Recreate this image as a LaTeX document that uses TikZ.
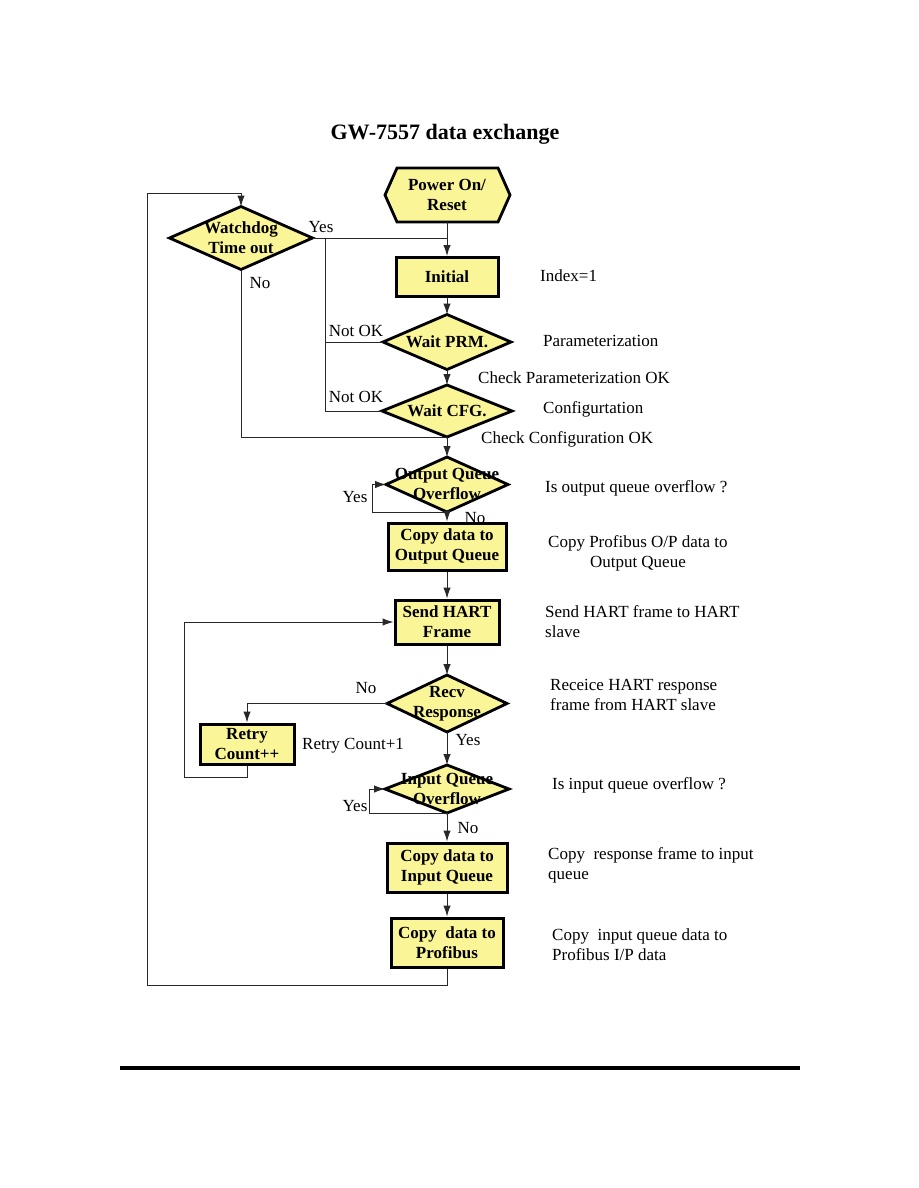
\documentclass[tikz,border=0pt]{standalone}
\usepackage{fontspec}
\setmainfont{Liberation Serif}
\usetikzlibrary{arrows.meta,shapes.geometric}
\definecolor{yfill}{RGB}{250,245,150}
\definecolor{lncol}{RGB}{40,40,40}
\tikzset{
  boxn/.style={draw=black, line width=3pt, fill=yfill, font=\fontsize{17}{20}\selectfont\bfseries, align=center, inner sep=0pt},
  diam/.style={diamond, draw=black, line width=2.8pt, fill=yfill, inner sep=0pt, outer sep=0pt},
  dtext/.style={font=\fontsize{17}{20}\selectfont\bfseries, align=center, inner sep=0pt},
  conn/.style={draw=lncol, line width=1pt},
  arr/.style={conn, -{Latex[length=11pt,width=7.5pt]}},
  ann/.style={font=\fontsize{17}{20}\selectfont, anchor=west, align=left, inner sep=0pt},
  lbl/.style={font=\fontsize{17}{20}\selectfont, inner sep=0pt}
}
\begin{document}
\begin{tikzpicture}[x=1pt,y=-1pt]
\useasboundingbox[fill=white] (0,0) rectangle (918,1188);
% title
\node[font=\fontsize{22}{26}\selectfont\bfseries] (title) at (445,134) {GW-7557 data exchange};
% power on hexagon
\fill[yfill] (385,195)--(397,168)--(498,168)--(510,195)--(498,222)--(397,222)--cycle;
\draw[line width=2.8pt] (385,195)--(397,168)--(498,168)--(510,195)--(498,222)--(397,222)--cycle;
\node[dtext, minimum width=125pt, minimum height=54pt] (pwr) at (447,195) {Power On/\\Reset};
% nodes
\node[diam, minimum width=143pt, minimum height=63pt] (wd) at (241,238) {};
\node[dtext] (wdt) at (241,238) {Watchdog\\Time out};
\node[boxn, minimum width=102pt, minimum height=39pt] (init) at (447,277) {Initial};
\node[diam, minimum width=128pt, minimum height=55pt] (prm) at (447,342) {};
\node[dtext] (prmt) at (447,342) {Wait PRM.};
\node[diam, minimum width=130pt, minimum height=52pt] (cfg) at (447,411) {};
\node[dtext] (cfgt) at (447,411) {Wait CFG.};
\node[diam, minimum width=122pt, minimum height=55pt] (oq) at (447,484.5) {};
\node[dtext] (oqt) at (447,484) {Output Queue\\Overflow};
\node[boxn, minimum width=118pt, minimum height=47pt] (cpo) at (447,546.5) {Copy data to\\Output Queue};
\node[boxn, minimum width=104pt, minimum height=44pt] (hart) at (447,622) {Send HART\\Frame};
\node[diam, minimum width=120pt, minimum height=57pt] (recv) at (447,703.5) {};
\node[dtext] (recvt) at (447,703.5) {Recv\\Response};
\node[boxn, minimum width=94pt, minimum height=40pt] (retry) at (247,744) {Retry\\Count++};
\node[diam, minimum width=124pt, minimum height=48pt] (iq) at (447,789) {};
\node[dtext] (iqt) at (447,789) {Input Queue\\Overflow};
\node[boxn, minimum width=120pt, minimum height=49pt] (cpi) at (447,867.5) {Copy data to\\Input Queue};
\node[boxn, minimum width=112pt, minimum height=49pt] (cpp) at (447,942.5) {Copy~~data to\\Profibus};
% coordinates
\coordinate (c1) at (325,238);
\coordinate (oqL) at (372,512);
\coordinate (rl) at (184,777);
\coordinate (iqL) at (369,813);
\coordinate (bl) at (147,985);
\coordinate (tl) at (147,193);
% connectors
\draw[arr] (pwr.south) -- (init.north);
\draw[conn] (wd.east) -- (wd.east -| init.north);
\draw[conn] (c1) |- (cfg.west);
\draw[conn] (prm.west) -- (prm.west -| c1);
\draw[arr] (init.south) -- (prm.north);
\draw[arr] (prm.south) -- (cfg.north);
\draw[conn] (wd.south) |- (cfg.south);
\draw[arr] (cfg.south) -- (oq.north);
\draw[arr] (oq.south) -- (oq.south -| oqL) |- (oq.west);
\draw[arr] (oq.south) -- (cpo.north);
\draw[arr] (cpo.south) -- (hart.north);
\draw[arr] (hart.south) -- (recv.north);
\draw[arr] (recv.west) -| (retry.north);
\draw[arr] (retry.south) |- (rl) |- (hart.west);
\draw[arr] (recv.south) -- (iq.north);
\draw[arr] (iq.south) -- (iq.south -| iqL) |- (iq.west);
\draw[arr] (iq.south) -- (cpi.north);
\draw[arr] (cpi.south) -- (cpp.north);
\draw[arr] (cpp.south) |- (bl) -- (tl) -| (wd.north);
% connector labels
\node[lbl] (y1) at (321,227) {Yes};
\node[lbl] (n1) at (260,283) {No};
\node[lbl] (nok1) at (356,331) {Not OK};
\node[lbl] (nok2) at (356,397) {Not OK};
\node[lbl] (y2) at (355,497) {Yes};
\node[lbl] (n2) at (475,518) {No};
\node[lbl] (n3) at (366,688) {No};
\node[lbl] (y3) at (468,740) {Yes};
\node[lbl] (y4) at (355,806) {Yes};
\node[lbl] (n4) at (468,828) {No};
% annotations
\node[ann] (a1) at (540,276) {Index=1};
\node[ann] (a2) at (543,341) {Parameterization};
\node[ann] (a3) at (478,378) {Check Parameterization OK};
\node[ann] (a4) at (543,409) {Configurtation};
\node[ann] (a5) at (481,439) {Check Configuration OK};
\node[ann] (a6) at (545,488) {Is output queue overflow ?};
\node[ann, align=center] (a7) at (548,553) {Copy Profibus O/P data to\\Output Queue};
\node[ann] (a8) at (545,622) {Send HART frame to HART\\slave};
\node[ann] (a9) at (550,695) {Receice HART response\\frame from HART slave};
\node[ann] (a10) at (302,746) {Retry Count+1};
\node[ann] (a11) at (552,785) {Is input queue overflow ?};
\node[ann] (a12) at (548,865) {Copy~~response frame to input\\queue};
\node[ann] (a13) at (552,945) {Copy~~input queue data to\\Profibus I/P data};
% bottom rule
\draw[line width=4pt] (120,1068) -- (800,1068);
\end{tikzpicture}
\end{document}
